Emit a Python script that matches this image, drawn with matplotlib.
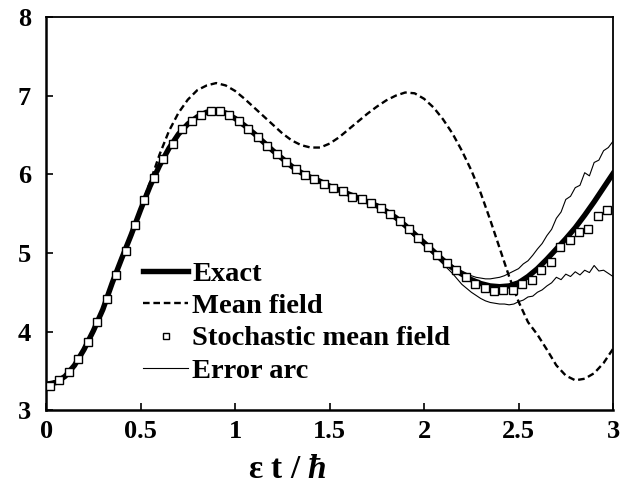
import numpy as np
import matplotlib
matplotlib.use("Agg")
import matplotlib.pyplot as plt

plt.rcParams["font.family"] = ["Liberation Serif", "DejaVu Serif"]
plt.rcParams["font.weight"] = "bold"
plt.rcParams["mathtext.fontset"] = "custom"
plt.rcParams["mathtext.it"] = "Liberation Serif:italic:bold"
plt.rcParams["mathtext.rm"] = "Liberation Serif:bold"

#Exact solution, every 0.05
t_exact = np.linspace(0, 3.0, 61)
exact = [3.33, 3.35, 3.43, 3.57, 3.77, 4.01, 4.28, 4.62, 4.93, 5.23,
         5.55, 5.85, 6.11, 6.33, 6.51, 6.64, 6.73, 6.79, 6.80, 6.78,
         6.71, 6.62, 6.52, 6.41, 6.30, 6.20, 6.10, 6.02, 5.96, 5.91,
         5.85, 5.80, 5.75, 5.70, 5.65, 5.60, 5.53, 5.45, 5.35, 5.24,
         5.13, 5.02, 4.91, 4.81, 4.73, 4.66, 4.61, 4.58, 4.57, 4.58,
         4.62, 4.70, 4.80, 4.92, 5.05, 5.18, 5.32, 5.48, 5.65, 5.83,
         6.01]

#Mean field, every 0.05
mean_field = [3.33, 3.35, 3.43, 3.57, 3.77, 4.01, 4.28, 4.62, 4.93, 5.24,
              5.57, 5.90, 6.25, 6.55, 6.78, 6.95, 7.07, 7.13, 7.16, 7.13,
              7.06, 6.96, 6.85, 6.74, 6.63, 6.52, 6.43, 6.37, 6.34, 6.34,
              6.39, 6.47, 6.57, 6.67, 6.77, 6.86, 6.94, 7.00, 7.04, 7.03,
              6.96, 6.85, 6.70, 6.52, 6.30, 6.05, 5.76, 5.42, 5.06, 4.70,
              4.38, 4.12, 3.96, 3.77, 3.57, 3.44, 3.38, 3.40, 3.47, 3.60,
              3.78]

#Stochastic mean field points
t_stoch = np.arange(0.02, 3.0, 0.05)
stoch = [3.31, 3.38, 3.49, 3.65, 3.87, 4.12, 4.41, 4.72, 5.03, 5.35,
         5.67, 5.95, 6.19, 6.39, 6.57, 6.68, 6.76, 6.80, 6.80, 6.75,
         6.68, 6.58, 6.48, 6.36, 6.26, 6.16, 6.07, 5.99, 5.94, 5.88,
         5.82, 5.79, 5.71, 5.68, 5.63, 5.57, 5.49, 5.40, 5.30, 5.19,
         5.08, 4.97, 4.87, 4.78, 4.70, 4.61, 4.55, 4.51, 4.53, 4.53,
         4.61, 4.65, 4.78, 4.89, 5.08, 5.16, 5.26, 5.31, 5.47, 5.54]

#Error arcs: coarse up to 2.1, then fine
t_arc = np.concatenate([np.linspace(0, 2.1, 22), np.linspace(2.125, 3.0, 36)])
arc_upper = [3.33, 3.43, 3.77, 4.28, 4.92, 5.55, 6.11, 6.51, 6.73, 6.80,
             6.71, 6.52, 6.30, 6.10, 5.96, 5.85, 5.75, 5.65, 5.53, 5.37,
             5.15, 4.93,
             4.88, 4.84, 4.80, 4.77, 4.74, 4.71, 4.69, 4.68, 4.67, 4.67,
             4.68, 4.69, 4.71, 4.74, 4.77, 4.80, 4.86, 4.90, 4.97, 5.05,
             5.12, 5.22, 5.30, 5.44, 5.52, 5.68, 5.72, 5.83, 5.86, 6.02,
             5.98, 6.15, 6.18, 6.30, 6.34, 6.42]
arc_lower = [3.33, 3.43, 3.77, 4.28, 4.92, 5.55, 6.11, 6.51, 6.73, 6.80,
             6.71, 6.52, 6.30, 6.10, 5.96, 5.85, 5.75, 5.65, 5.53, 5.32,
             5.09, 4.86,
             4.80, 4.74, 4.67, 4.60, 4.55, 4.50, 4.46, 4.42, 4.39, 4.37,
             4.36, 4.35, 4.35, 4.34, 4.35, 4.38, 4.40, 4.44, 4.45, 4.50,
             4.53, 4.58, 4.62, 4.69, 4.66, 4.73, 4.70, 4.76, 4.72, 4.78,
             4.75, 4.84, 4.77, 4.78, 4.74, 4.70]

fig = plt.figure(figsize=(6.32, 4.86), dpi=100)
ax = fig.add_axes([0.073, 0.156, 0.897, 0.809])

ax.plot(t_arc, arc_upper, color="black", lw=0.8, label="Error arc", zorder=2)
ax.plot(t_arc, arc_lower, color="black", lw=0.8, zorder=2)
ax.plot(t_exact, exact, color="black", lw=3.9, label="Exact", zorder=3)
ax.plot(t_exact, mean_field, color="black", lw=1.7, dashes=(2.8, 1.6),
        label="Mean field", zorder=4)
ax.plot(t_stoch, stoch, ls="none", marker="s", ms=5.5, mfc="white",
        mec="black", mew=1.0, label="Stochastic mean field", zorder=5)

ax.set_xlim(0, 3)
ax.set_ylim(3, 8)
ax.set_xticks([0, 0.5, 1, 1.5, 2, 2.5, 3])
ax.set_xticklabels(["0", "0.5", "1", "1.5", "2", "2.5", "3"])
ax.set_yticks([3, 4, 5, 6, 7, 8])
ax.tick_params(direction="in", length=5, width=1.2, labelsize=19)
ax.tick_params(axis="x", pad=7)
ax.tick_params(axis="y", pad=11)
for s in ["left", "bottom"]:
    ax.spines[s].set_linewidth(1.8)
for s in ["top", "right"]:
    ax.spines[s].set_linewidth(1.3)

ax.set_xlabel(r"ε t / $\hbar$", fontsize=24, fontweight="bold")
ax.xaxis.set_label_coords(0.425, -0.112)

h, l = ax.get_legend_handles_labels()
order = [1, 2, 3, 0]
leg = ax.legend([h[i] for i in order], [l[i] for i in order],
                loc="upper left", bbox_to_anchor=(0.171, 0.379), frameon=False,
                fontsize=20.5, handlelength=1.58, handletextpad=0.15,
                labelspacing=0.22, borderpad=0, borderaxespad=0, numpoints=1,
                markerscale=0.8)

plt.savefig("out.png", dpi=100)
